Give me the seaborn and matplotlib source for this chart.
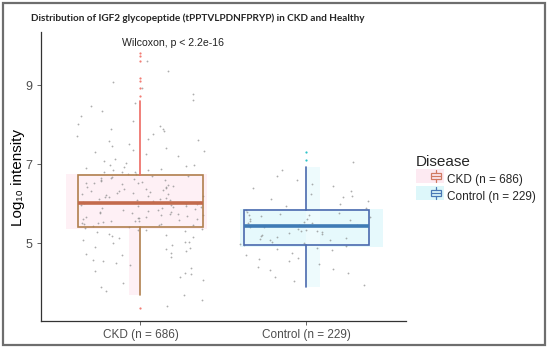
import numpy as np
import pandas as pd
import matplotlib
matplotlib.use("Agg")
import matplotlib.pyplot as plt
import seaborn as sns
from matplotlib.patches import Rectangle
from matplotlib.lines import Line2D
from matplotlib.legend_handler import HandlerBase

# ---------------- data ----------------
groups = ["CKD (n = 686)", "Control (n = 229)"]
legend_labels = ["CKD (n = 686)", "Control (n = 229)"]
whislo = [3.68, 3.89]
q1 = [5.41, 4.95]
med = [6.01, 5.43]
q3 = [6.72, 5.84]
whishi = [8.59, 6.92]
outliers = [[8.72, 8.92, 9.10, 9.18, 9.61, 9.73, 9.81, 3.35], [7.10, 7.30]]

ckd_vals = [
    9.62, 9.35, 9.08, 8.93, 8.78, 8.62, 8.48, 8.35, 8.22, 8.1, 8.02, 8.55,
    7.96, 7.9, 7.83, 7.77, 7.7, 7.64, 7.58, 7.52, 7.47, 7.41, 7.36, 7.3, 7.25, 7.2,
    7.14, 7.09, 7.04, 7.62, 7.33, 7.88,
    6.99, 6.96, 6.93, 6.9, 6.87, 6.84, 6.81, 6.79, 6.76, 6.74, 6.97, 6.86, 6.8,
    6.71, 6.69, 6.67, 6.65, 6.62, 6.6, 6.58, 6.56, 6.53, 6.51, 6.49, 6.46, 6.44, 6.42,
    6.39, 6.37, 6.35, 6.33, 6.3, 6.28, 6.26, 6.24, 6.22, 6.19, 6.17, 6.15, 6.12, 6.1,
    6.08, 6.06, 6.04, 6.02, 6.66, 6.52, 6.41, 6.31, 6.2, 6.13, 6.05, 6.59, 6.36, 6.25, 6.16,
    6.0, 5.98, 5.97, 5.95, 5.93, 5.91, 5.89, 5.87, 5.85, 5.83, 5.81, 5.79, 5.77, 5.75,
    5.73, 5.71, 5.69, 5.67, 5.65, 5.63, 5.61, 5.59, 5.57, 5.55, 5.53, 5.51, 5.49, 5.47,
    5.45, 5.43, 5.42, 5.96, 5.88, 5.8, 5.72, 5.64, 5.56, 5.48, 5.92, 5.76, 5.6, 5.52,
    5.39, 5.36, 5.33, 5.3, 5.27, 5.23, 5.2, 5.16, 5.12, 5.08, 5.04, 5.0, 4.96, 4.91,
    4.86, 4.81, 4.76, 4.7, 4.64, 4.58, 4.51, 4.44, 4.37, 4.3, 4.22, 4.14, 4.06, 3.98,
    3.9, 3.8, 3.7, 3.55, 3.42, 5.34, 5.18, 5.02, 4.88, 4.72, 4.55, 4.25,
]
ctrl_vals = [
    7.05, 6.85, 6.7, 6.6, 6.5, 6.4, 6.32, 6.25, 6.18, 6.12, 6.06, 6.0, 5.95, 5.9, 6.45, 6.2,
    5.83, 5.8, 5.77, 5.74, 5.71, 5.68, 5.65, 5.62, 5.59, 5.56, 5.53, 5.5, 5.47, 5.45,
    5.72, 5.6, 5.52,
    5.42, 5.4, 5.37, 5.34, 5.31, 5.28, 5.25, 5.22, 5.19, 5.16, 5.13, 5.1, 5.07, 5.04,
    5.01, 4.98, 4.96, 5.3, 5.2, 5.08,
    4.93, 4.88, 4.82, 4.76, 4.7, 4.63, 4.56, 4.48, 4.4, 4.32, 4.24, 4.15, 4.05, 3.95,
    4.85, 4.6, 4.35,
]
yticks = [5, 7, 9]
title = "Distribution of IGF2 glycopeptide (tPPTVLPDNFPRYP) in CKD and Healthy"
test_label = "Wilcoxon, p < 2.2e-16"
ylabel = "Log₁₀ intensity"

# ---------------- style ----------------
sns.set_theme(style="white")
plt.rcParams["font.family"] = ["Liberation Sans", "DejaVu Sans"]

edge_cols = ["#B0804E", "#4A6AAE"]
upper_whisk_cols = ["#EE6A62", "#4A6AAE"]
median_cols = ["#C36A4C", "#3F7BB5"]
shade_cols = ["#FEF0F5", "#E6F9FC"]
flier_cols = ["#F27C74", "#2EC4C9"]

fig = plt.figure(figsize=(5.5, 3.48), dpi=100)
ax = fig.add_axes([0.0745, 0.0776, 0.6635, 0.830])

df = pd.DataFrame({
    "group": [groups[0]] * len(ckd_vals) + [groups[1]] * len(ctrl_vals),
    "value": ckd_vals + ctrl_vals,
})

# faint halo rectangles behind the boxes, as in the reference
shade_x = [(-0.45, 0.40), (-0.40, 0.46)]
for i in range(2):
    x0, x1 = shade_x[i]
    ax.add_patch(Rectangle((i + x0, q1[i] - 0.04), x1 - x0, q3[i] - q1[i] + 0.06,
                           facecolor=shade_cols[i], edgecolor="none", zorder=0.5))
ax.add_patch(Rectangle((0 - 0.07, whislo[0]), 0.07, q1[0] - whislo[0],
                       facecolor=shade_cols[0], edgecolor="none", zorder=0.5))
ax.add_patch(Rectangle((1, whislo[1]), 0.08, whishi[1] - whislo[1],
                       facecolor="#EEFBFD", edgecolor="none", zorder=0.5))

np.random.seed(3)
sns.stripplot(data=df, x="group", y="value", order=groups, color="#8A8A8A",
              size=1.3, jitter=0.40, alpha=0.7, linewidth=0, ax=ax, zorder=1)

for i in range(2):
    stats = [dict(whislo=whislo[i], q1=q1[i], med=med[i], q3=q3[i],
                  whishi=whishi[i], fliers=outliers[i])]
    res = ax.bxp(stats, positions=[i], widths=0.75, showcaps=False,
                 patch_artist=True, manage_ticks=False,
                 boxprops=dict(facecolor="none", edgecolor=edge_cols[i], linewidth=1.2),
                 whiskerprops=dict(color=edge_cols[i], linewidth=1.2),
                 medianprops=dict(color=median_cols[i], linewidth=2.6),
                 flierprops=dict(marker="o", markersize=1.6, markerfacecolor=flier_cols[i],
                                 markeredgecolor="none", linestyle="none"))
    res["whiskers"][1].set_color(upper_whisk_cols[i])
    for k in res.values():
        for a in k:
            a.set_zorder(2)

ax.set_xlim(-0.6, 1.6)
ax.set_ylim(3.03, 10.34)
ax.set_xticks([0, 1])
ax.set_xticklabels(groups)
ax.set_yticks(yticks)
ax.set_xlabel("")
ax.set_ylabel("")
ax.tick_params(axis="both", colors="#4D4D4D", labelsize=9, length=3, width=0.6,
               direction="out", bottom=True, left=True)
ax.tick_params(axis="x", pad=3, labelsize=8.5)
for s in ["top", "right"]:
    ax.spines[s].set_visible(False)
for s in ["left", "bottom"]:
    ax.spines[s].set_color("#333333")
    ax.spines[s].set_linewidth(0.9)

fig.text(18 / 550, 1 - 177 / 348, ylabel, rotation=90, ha="center", va="center",
         fontsize=11, color="black", family=["Liberation Sans", "DejaVu Sans"])

ax.text(-0.11, 10.06, test_label, ha="left", va="center", fontsize=7.6, color="#222222")

fig.text(0.057, 0.948, title, ha="left", va="center", fontsize=7.2,
         fontweight="bold", family=["Lato", "DejaVu Sans"])


# legend glyph: small boxplot icon on a faint band
class BoxHandler(HandlerBase):
    def __init__(self, edge, shade):
        super().__init__()
        self.edge = edge
        self.shade = shade

    def create_artists(self, legend, orig, xd, yd, w, h, fs, trans):
        arts = []
        arts.append(Rectangle((xd, yd - 0.1 * h), w, 1.2 * h,
                              facecolor=self.shade, edgecolor="none", transform=trans))
        cx = xd + 0.7 * w
        bw = 0.34 * w
        bx0 = cx - bw / 2
        arts.append(Rectangle((bx0, yd + 0.2 * h), bw, 0.6 * h, facecolor="none",
                              edgecolor=self.edge, lw=0.9, transform=trans))
        arts.append(Line2D([bx0, bx0 + bw], [yd + 0.5 * h] * 2, color=self.edge,
                           lw=0.9, transform=trans))
        arts.append(Line2D([cx, cx], [yd + 0.8 * h, yd + 1.05 * h], color=self.edge,
                           lw=0.9, transform=trans))
        arts.append(Line2D([cx, cx], [yd - 0.05 * h, yd + 0.2 * h], color=self.edge,
                           lw=0.9, transform=trans))
        return arts


h1 = Rectangle((0, 0), 1, 1)
h2 = Rectangle((0, 0), 1, 1)
leg = fig.legend([h1, h2], legend_labels, title="Disease",
                 handler_map={h1: BoxHandler("#D07A62", "#FDEAF2"),
                              h2: BoxHandler("#4A78B5", "#DDF7FA")},
                 loc="upper left", bbox_to_anchor=(0.748, 0.568), frameon=False,
                 fontsize=8.5, title_fontsize=11, handlelength=2.4, handleheight=1.1,
                 handletextpad=0.2, labelspacing=0.38, alignment="left",
                 borderaxespad=0)

# outer frame
fig.add_artist(Rectangle((0.006, 0.008), 0.985, 0.983, transform=fig.transFigure,
                         facecolor="none", edgecolor="#6E6E6E", lw=1.6))

fig.savefig("out.png", dpi=100)
